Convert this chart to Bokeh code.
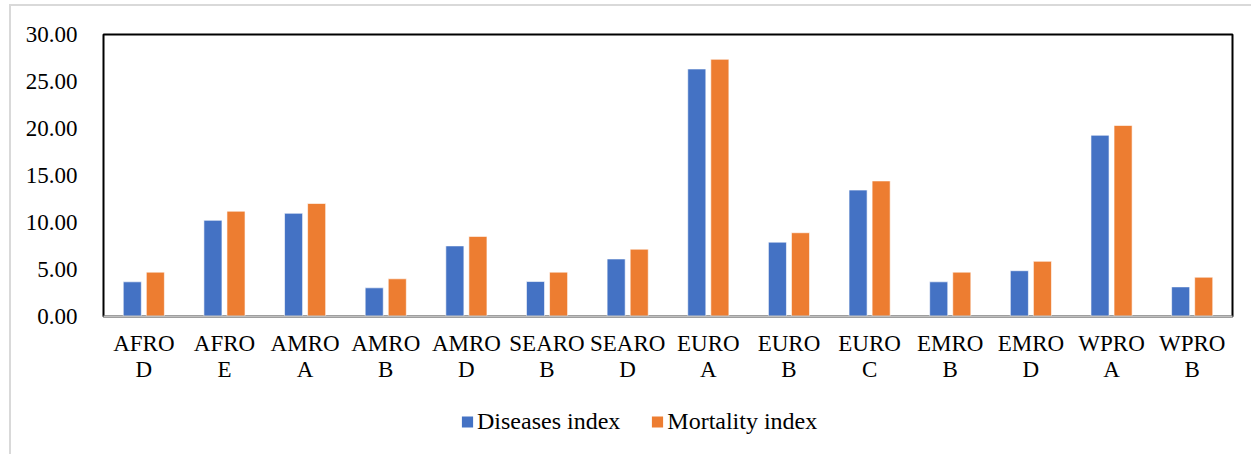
from bokeh.plotting import figure
from bokeh.models import ColumnDataSource, Range1d, Legend, LegendItem, FactorRange, NumeralTickFormatter
from bokeh.layouts import column
from bokeh.transform import dodge
from bokeh.embed import file_html
from bokeh.resources import INLINE

regions = ["AFRO\nD", "AFRO\nE", "AMRO\nA", "AMRO\nB", "AMRO\nD", "SEARO\nB", "SEARO\nD",
           "EURO\nA", "EURO\nB", "EURO\nC", "EMRO\nB", "EMRO\nD", "WPRO\nA", "WPRO\nB"]
diseases_index = [3.69, 10.23, 10.98, 3.05, 7.51, 3.72, 6.12, 26.33, 7.91, 13.45, 3.69, 4.87, 19.28, 3.15]
mortality_index = [4.72, 11.20, 12.02, 4.01, 8.52, 4.72, 7.16, 27.36, 8.91, 14.42, 4.72, 5.87, 20.32, 4.18]
y_ticks = [0, 5, 10, 15, 20, 25, 30]
series_names = ["Diseases index", "Mortality index"]

FONT = "Liberation Serif"
BLUE = "#4472C4"
ORANGE = "#ED7D31"

src = ColumnDataSource(dict(region=regions, dis=diseases_index, mort=mortality_index))

p = figure(x_range=FactorRange(*regions), y_range=Range1d(0, 30),
           frame_width=1127, frame_height=280, output_backend="svg", toolbar_location=None,
           min_border_left=92, min_border_right=21, min_border_top=28, min_border_bottom=90)
p.styles = {"position": "relative", "left": "9px", "top": "4px",
            "border-left": "2px solid #d9d9d9", "border-top": "2px solid #d9d9d9"}

r1 = p.vbar(x=dodge("region", -0.143, range=p.x_range), top="dis", width=0.224, source=src,
            fill_color=BLUE, line_color="white", line_width=1, line_alpha=0.6)
r2 = p.vbar(x=dodge("region", 0.143, range=p.x_range), top="mort", width=0.224, source=src,
            fill_color=ORANGE, line_color="white", line_width=1, line_alpha=0.6)

p.outline_line_color = "black"
p.outline_line_width = 2
p.xgrid.visible = False
p.ygrid.visible = False

p.yaxis.ticker = y_ticks
p.yaxis.formatter = NumeralTickFormatter(format="0.00")
p.yaxis.axis_line_color = None
p.yaxis.major_tick_line_color = None
p.yaxis.minor_tick_line_color = None
p.yaxis.major_label_standoff = 20
p.yaxis.major_label_text_font = FONT
p.yaxis.major_label_text_font_size = "23px"
p.yaxis.major_label_text_color = "black"

p.xaxis.axis_line_color = "#bfbfbf"
p.xaxis.axis_line_width = 2
p.xaxis.major_tick_line_color = None
p.xaxis.minor_tick_line_color = None
p.xaxis.major_label_standoff = 8
p.xaxis.major_label_text_font = FONT
p.xaxis.major_label_text_font_size = "23px"
p.xaxis.major_label_text_line_height = 1.05
p.xaxis.major_label_text_color = "black"

# legend strip below the chart
p2 = figure(width=1240, height=50, x_range=Range1d(0, 1), y_range=Range1d(0, 1),
            x_axis_type=None, y_axis_type=None, output_backend="svg", toolbar_location=None,
            min_border_left=0, min_border_right=0, min_border_top=0, min_border_bottom=16)
p2.styles = {"position": "relative", "left": "9px", "top": "4px",
             "border-left": "2px solid #d9d9d9"}
p2.outline_line_color = None
p2.xgrid.visible = False
p2.ygrid.visible = False
key_src = ColumnDataSource(dict(x=[-1.0], top=[0.0]))
d1 = p2.vbar(x="x", top="top", width=0.1, source=key_src, fill_color=BLUE, line_color=None)
d2 = p2.vbar(x="x", top="top", width=0.1, source=key_src, fill_color=ORANGE, line_color=None)

legend = Legend(items=[LegendItem(label=series_names[0], renderers=[d1]),
                       LegendItem(label=series_names[1], renderers=[d2])],
                orientation="horizontal", location="left",
                glyph_width=14, glyph_height=14, label_standoff=3, spacing=30,
                padding=0, margin=357, border_line_color=None, background_fill_alpha=0,
                label_text_font=FONT, label_text_font_size="24px", label_text_color="black")
p2.add_layout(legend, "center")

open("out.html", "w").write(file_html(column(p, p2, spacing=0), INLINE))
